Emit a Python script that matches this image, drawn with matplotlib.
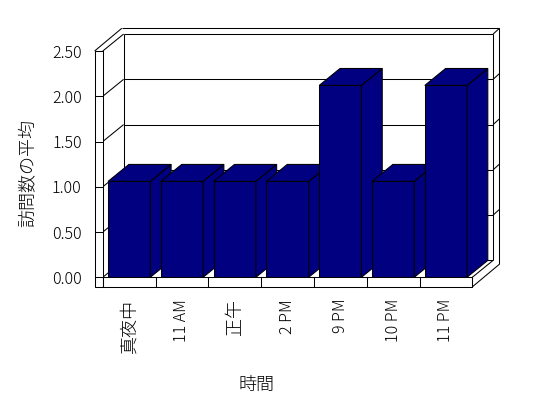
import matplotlib
matplotlib.use('Agg')
import matplotlib.pyplot as plt
from matplotlib.patches import Polygon, Rectangle

plt.rcParams['font.family'] = ['Noto Sans CJK JP', 'DejaVu Sans']

# data
categories = ['真夜中', '11 AM', '正午', '2 PM', '9 PM', '10 PM', '11 PM']
values = [1.06, 1.06, 1.06, 1.06, 2.12, 1.06, 2.12]
yticks = [0.0, 0.5, 1.0, 1.5, 2.0, 2.5]
ytick_labels = ['0.00', '0.50', '1.00', '1.50', '2.00', '2.50']

navy = '#000080'
lw = 0.75

# fake 3d geometry (in data units)
DX, DY = 0.394, 0.187      # depth of plot box
DXo, DYo = 0.515, 0.251    # depth incl. back wall thickness
WT = 0.155                 # left wall thickness
FT = 0.106                 # floor thickness
x0, x1 = -0.5, len(categories) - 0.5
ytop = yticks[-1]

fig = plt.figure(figsize=(5.48, 3.98), dpi=100)
ax = fig.add_axes([102.8 / 548, 1 - 277.3 / 398, 369.5 / 548, 226.3 / 398])
ax.set_xlim(x0, x1)
ax.set_ylim(0, ytop)
for s in ax.spines.values():
    s.set_visible(False)


def line(xs, ys, z=2):
    ax.plot(xs, ys, color='black', lw=lw, clip_on=False, zorder=z,
            solid_capstyle='butt')


# back wall + left wall inner face
for v in yticks[:-1]:
    line([x0 + DX, x1 + DX], [v + DY, v + DY])
    line([x0, x0 + DX], [v, v + DY])
    if v > 0:
        line([x1 + DX, x1 + DXo], [v + DY, v + DYo])
line([x0 + DX, x0 + DX], [DY, ytop + DY])

# bars
bars = ax.bar(range(len(values)), values, width=0.8, color=navy,
              edgecolor='black', linewidth=lw)
for i, (b, h) in enumerate(zip(bars, values)):
    xl, xr = i - 0.4, i + 0.4
    b.set_zorder(10 + i)
    b.set_clip_on(False)
    side = Polygon([(xr, 0), (xr + DX, DY), (xr + DX, h + DY), (xr, h)],
                   closed=True, fc=navy, ec='black', lw=lw,
                   zorder=10 + i, clip_on=False)
    top = Polygon([(xl, h), (xr, h), (xr + DX, h + DY), (xl + DX, h + DY)],
                  closed=True, fc=navy, ec='black', lw=lw,
                  zorder=10 + i, clip_on=False)
    ax.add_patch(side)
    ax.add_patch(top)

# front faces of left wall and floor
ax.add_patch(Rectangle((x0 - WT, -FT), WT, ytop + FT, fc='white', ec='black',
                       lw=lw, zorder=30, clip_on=False))
ax.add_patch(Rectangle((x0, -FT), x1 - x0, FT, fc='white', ec='black',
                       lw=lw, zorder=30, clip_on=False))
for v in yticks:
    line([x0 - WT, x0], [v, v], z=31)
for e in range(len(categories) + 1):
    line([x0 + e, x0 + e], [-FT, 0], z=31)

# outer edges
line([x0 - WT, x0 - WT + DXo], [ytop, ytop + DYo], z=31)
line([x0, x0 + DX], [ytop, ytop + DY], z=31)
line([x0 - WT + DXo, x1 + DXo], [ytop + DYo, ytop + DYo], z=31)
line([x0 + DX, x1 + DX], [ytop + DY, ytop + DY], z=31)
line([x1 + DX, x1 + DXo], [ytop + DY, ytop + DYo], z=31)
line([x1 + DX, x1 + DX], [DY, ytop + DY], z=31)
line([x1 + DXo, x1 + DXo], [-FT + DYo, ytop + DYo], z=31)
line([x1, x1 + DX], [0, DY], z=31)
line([x1, x1 + DXo], [-FT, -FT + DYo], z=31)

ax.set_yticks(yticks)
ax.set_yticklabels(ytick_labels, fontsize=11.5, fontweight='light')
ax.set_xticks(range(len(categories)))
ax.set_xticklabels(categories, rotation=90, fontsize=11.5, fontweight='light')
for t in ax.get_xticklabels():
    if not t.get_text()[0].isdigit():
        t.set_fontsize(13)
ax.tick_params(axis='y', length=0, pad=15.2)
ax.tick_params(axis='x', length=0, pad=15.5)

fig.text(28 / 548, 1 - 173 / 398, '訪問数の平均', rotation=90, fontsize=13,
         ha='center', va='center', fontweight='light')
fig.text(256.7 / 548, 1 - 385 / 398, '時間', fontsize=13,
         ha='center', va='center', fontweight='light')

fig.savefig('out.png', dpi=100, facecolor='white')
